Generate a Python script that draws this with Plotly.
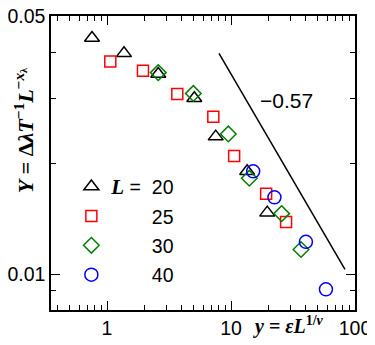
import plotly.graph_objects as go

# scaling collapse data, one series per system size L
x_L20 = [0.757, 1.371, 2.59, 5.06, 7.53, 13.5, 19.6]
y_L20 = [0.0437, 0.0397, 0.0349, 0.0300, 0.0236, 0.0190, 0.01468]

x_L25 = [1.063, 1.95, 3.69, 7.2, 10.6, 19.2, 27.8]
y_L25 = [0.0377, 0.0356, 0.0308, 0.0267, 0.0209, 0.01652, 0.01384]

x_L30 = [2.59, 4.97, 9.51, 14.05, 25.6, 36.7]
y_L30 = [0.0352, 0.0309, 0.0240, 0.0182, 0.01459, 0.01166]

x_L40 = [15.1, 22.4, 40.2, 58.3]
y_L40 = [0.0190, 0.01615, 0.01223, 0.00909]

# guide line with slope -0.57
guide_x = [8.0, 83.0]
guide_y = [0.0397, 0.0103]

x_ticks = [1, 10, 100]
x_ticklabels = ['1', '10', '100']
x_minor = [0.4, 0.5, 0.6, 0.7, 0.8, 0.9, 2, 3, 4, 5, 6, 7, 8, 9, 20, 30, 40, 50, 60, 70, 80, 90]
y_ticks = [0.01, 0.05]
y_ticklabels = ['0.01', '0.05']
y_minor = [0.009, 0.02, 0.03, 0.04]

SANS = 'Liberation Sans'
MATH = 'Liberation Serif'
L_SYM = "<b><i style='font-family:Liberation Serif;font-size:21px'>L</i></b> =\u00a0\u00a0"
HIDE = "<span style='color:rgba(0,0,0,0)'>" + L_SYM + "</span>"

series = [
    (x_L20, y_L20, L_SYM + '20', 'triangle-up-open', 'black', 13),
    (x_L25, y_L25, HIDE + '25', 'square-open', 'red', 11),
    (x_L30, y_L30, HIDE + '30', 'diamond-open', 'green', 12),
    (x_L40, y_L40, HIDE + '40', 'circle-open', 'blue', 13),
]

fig = go.Figure()
for i, (xs, ys, name, sym, col, sz) in enumerate(series):
    fig.add_trace(go.Scatter(
        x=xs, y=ys, mode='markers', name=name, legendgroup='g%d' % i,
        marker=dict(symbol=sym, size=sz, color=col, line=dict(color=col, width=1.5)),
    ))

fig.add_trace(go.Scatter(x=guide_x, y=guide_y, mode='lines', showlegend=False,
                         line=dict(color='black', width=1.5)))

axis_common = dict(
    showline=True, linecolor='black', linewidth=1.5, mirror='allticks',
    ticks='inside', ticklen=9, tickwidth=1.2, tickcolor='black',
    showgrid=False, zeroline=False, automargin=False, ticklabeloverflow='allow',
    tickfont=dict(family=SANS, size=19.5, color='black'),
)

fig.update_xaxes(type='log', range=[-0.4516, 2], tickmode='array', tickvals=x_ticks, ticktext=x_ticklabels,
                 minor=dict(ticks='inside', ticklen=5, tickwidth=1.2, tickcolor='black',
                            tickmode='array', tickvals=x_minor, showgrid=False),
                 **axis_common)
fig.update_yaxes(type='log', range=[-2.0974, -1.2999], tickmode='array', tickvals=y_ticks, ticktext=y_ticklabels,
                 minor=dict(ticks='inside', ticklen=5, tickwidth=1.2, tickcolor='black',
                            tickmode='array', tickvals=y_minor, showgrid=False),
                 **axis_common)

fig.add_annotation(text='\u22120.57', x=0.776, y=0.714, xref='paper', yref='paper', showarrow=False,
                   xanchor='center', yanchor='middle',
                   font=dict(family=SANS, size=21, color='black'))
fig.add_annotation(text='<b><i>y</i> = <i>\u03b5L</i><sup>1/<i>\u03bd</i></sup></b>',
                   x=0.78, y=-0.054, xref='paper', yref='paper', showarrow=False,
                   xanchor='center', yanchor='middle',
                   font=dict(family=MATH, size=20, color='black'))
fig.add_annotation(text="<b><i>Y</i> = \u0394<i>\u03bbT</i><sup>\u22121</sup><i>L</i><sup>\u2212<i>x</i>"
                        "<span style='font-size:10px;baseline-shift:-3px'>\u03bb</span></sup></b>",
                   x=-0.09, y=0.61, xref='paper', yref='paper', showarrow=False, textangle=-90,
                   xanchor='center', yanchor='middle',
                   font=dict(family=MATH, size=22, color='black'))

# page body adds an 8px offset, so margins are shifted to compensate
fig.update_layout(
    width=367, height=337,
    margin=dict(l=43, r=20, t=8, b=35),
    paper_bgcolor='white', plot_bgcolor='white',
    legend=dict(x=0.067, y=0.485, xanchor='left', yanchor='top', tracegroupgap=1,
                bgcolor='rgba(0,0,0,0)', font=dict(family=SANS, size=19.5, color='black')),
)

fig.write_html("out.html")
